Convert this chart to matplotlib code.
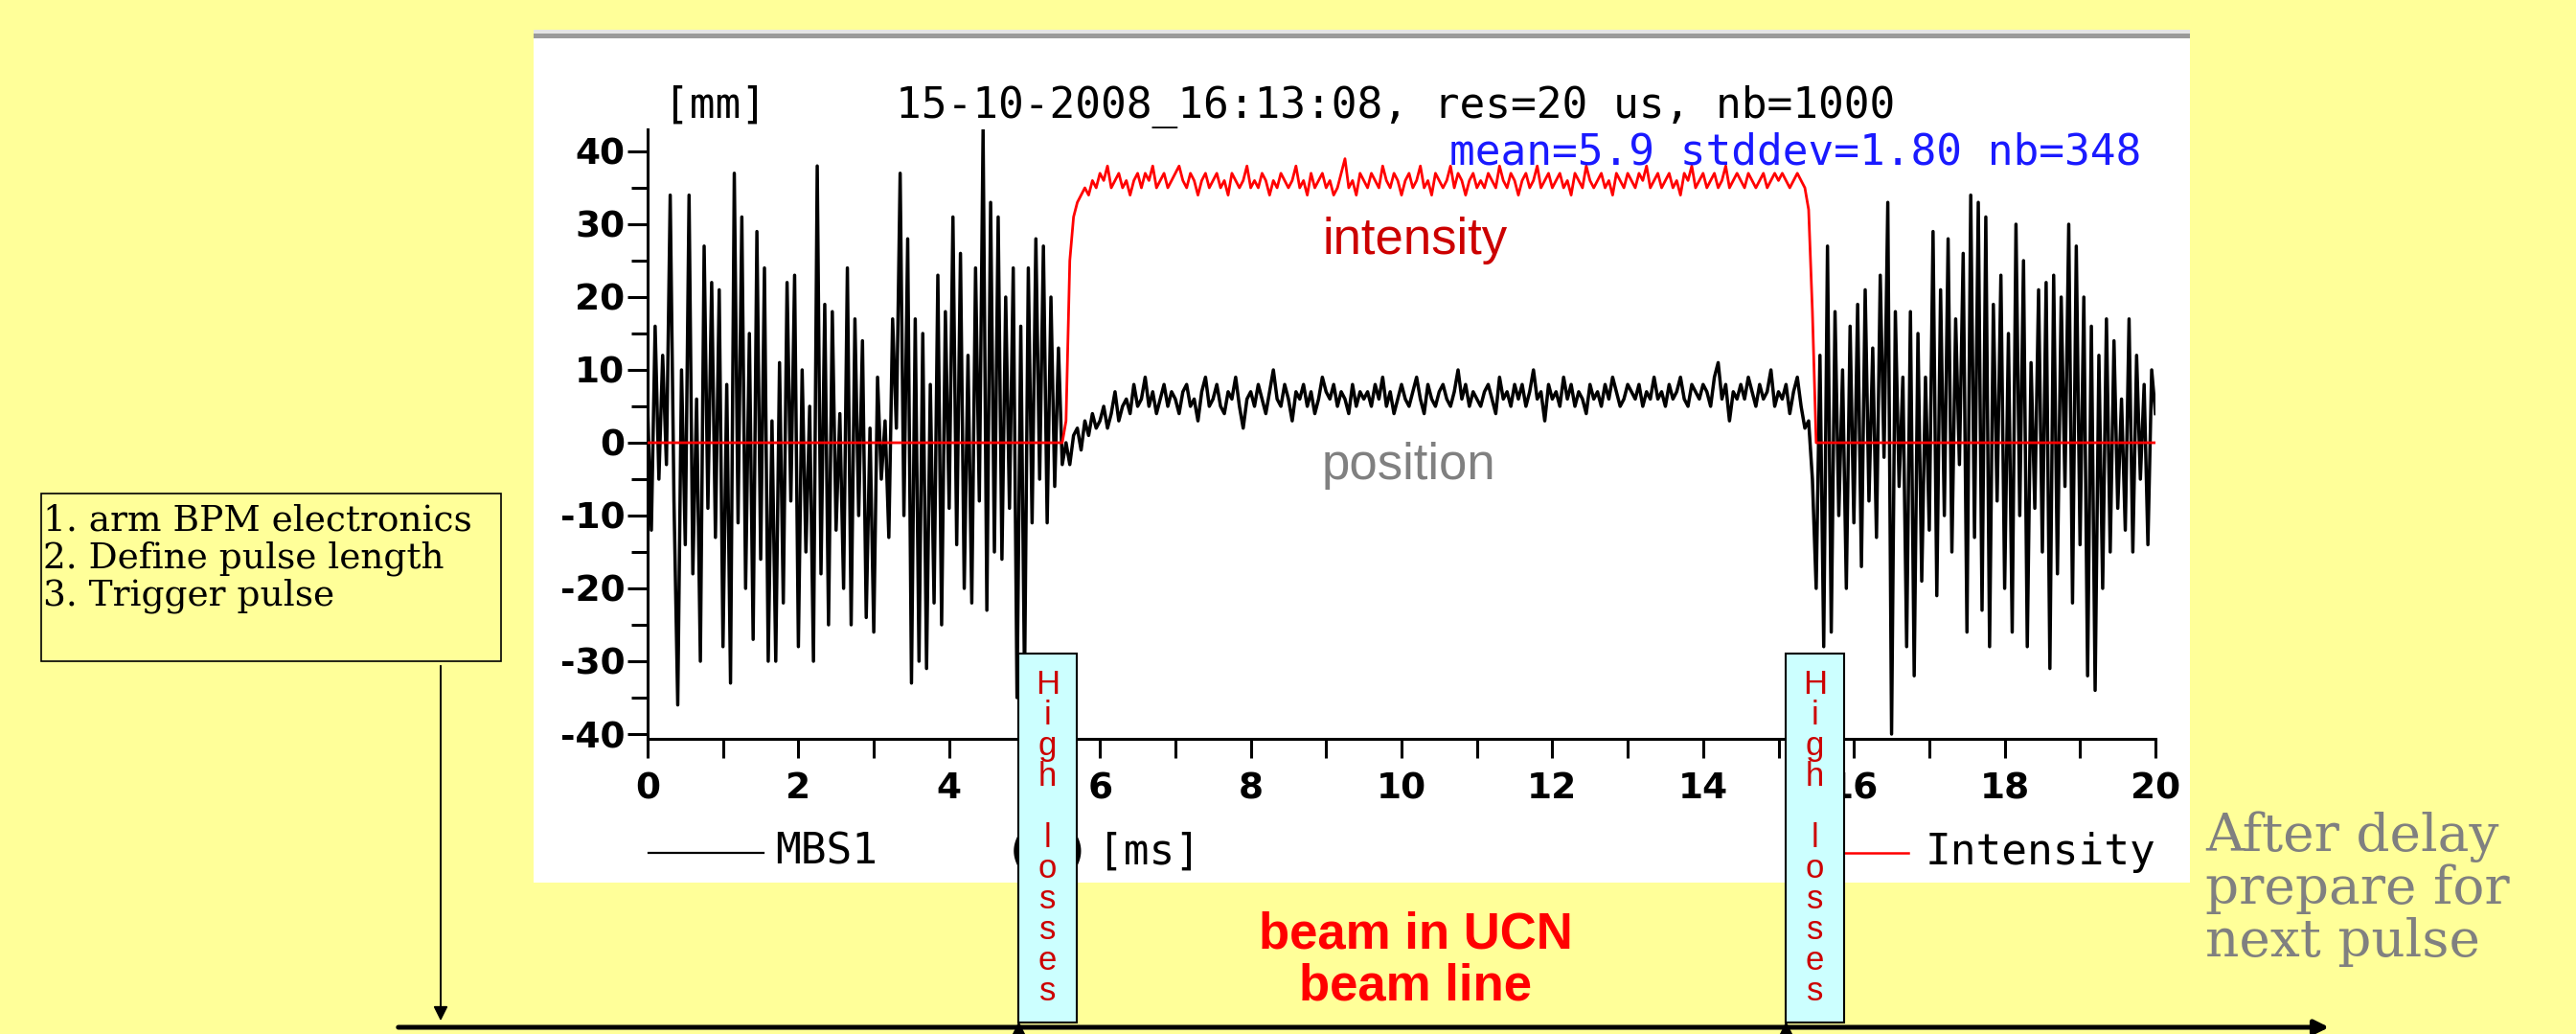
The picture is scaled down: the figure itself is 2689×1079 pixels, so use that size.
import numpy as np
import matplotlib
matplotlib.use("Agg")
import matplotlib.pyplot as plt
from matplotlib.patches import Rectangle
from matplotlib.ticker import MultipleLocator

W, H = 2689, 1079
DT = 0.05  # ms between the samples typed below

# MBS1 beam position [mm]
pos_before = [  # t = 0.00 .. 5.50 ms
    5, -12, 16, -5, 12, -3, 34, -8, -36, 10,
    -14, 34, -18, 6, -30, 27, -9, 22, -13, 21,
    -28, 8, -33, 37, -11, 31, -20, 15, -27, 29,
    -16, 24, -30, 3, -30, 11, -22, 22, -8, 23,
    -28, 10, -15, 5, -30, 38, -18, 19, -25, 18,
    -12, 4, -20, 24, -25, 17, -10, 14, -24, 2,
    -26, 9, -5, 3, -13, 17, 2, 37, -10, 28,
    -33, 17, -30, 15, -31, 8, -22, 23, -25, 18,
    -9, 31, -14, 26, -20, 12, -22, 24, -8, 43,
    -23, 33, -15, 31, -16, 20, -9, 24, -35, 16,
    -33, 24, -11, 28, -5, 27, -11, 20, -6, 13,
    -3]
pos_beam = [  # t = 5.55 .. 15.40 ms
    0, -3, 1, 2, -1, 3, 1, 4, 2, 3,
    5, 2, 4, 7, 3, 5, 6, 4, 8, 5,
    6, 9, 5, 7, 4, 6, 8, 5, 7, 6,
    4, 7, 8, 5, 6, 3, 7, 9, 5, 6,
    8, 5, 4, 7, 6, 9, 5, 2, 6, 7,
    5, 8, 6, 4, 7, 10, 6, 5, 8, 6,
    3, 7, 6, 8, 5, 7, 4, 6, 9, 7,
    6, 8, 5, 7, 6, 4, 8, 5, 7, 6,
    7, 5, 8, 6, 9, 5, 7, 4, 6, 8,
    6, 5, 7, 9, 6, 4, 8, 6, 5, 7,
    8, 6, 5, 7, 10, 6, 8, 5, 7, 6,
    5, 7, 8, 6, 4, 9, 6, 7, 5, 8,
    6, 8, 5, 7, 10, 6, 7, 3, 8, 6,
    7, 5, 9, 6, 8, 5, 7, 6, 4, 8,
    6, 7, 5, 8, 6, 9, 7, 5, 6, 8,
    7, 6, 8, 5, 7, 6, 9, 6, 7, 5,
    8, 6, 7, 9, 6, 5, 8, 7, 6, 8,
    7, 5, 9, 11, 6, 8, 3, 7, 6, 8,
    6, 9, 7, 5, 8, 6, 7, 10, 5, 7,
    6, 8, 4, 7, 9, 5, 2, 3]
pos_after = [  # t = 15.45 .. 20.00 ms
    -5, -20, 12, -28, 27, -26, 18, -10, 10, -20,
    16, -11, 19, -17, 21, -8, 13, -13, 23, -2,
    33, -40, 18, -6, 9, -28, 18, -32, 15, -19,
    9, -12, 29, -21, 21, -10, 28, -15, 17, -3,
    26, -26, 34, -13, 33, -23, 31, -28, 19, -8,
    23, -20, 15, -26, 30, -10, 25, -28, 11, -9,
    21, -15, 22, -31, 23, -18, 20, -6, 30, -22,
    27, -14, 20, -32, 16, -34, 12, -20, 17, -15,
    14, -9, 6, -12, 17, -15, 12, -5, 8, -14,
    10, 4]

# Intensity while the beam is on (zero before and after)
int_beam = [  # t = 5.55 .. 15.45 ms
    3, 25, 31, 33, 34, 35, 34, 36, 35, 37,
    36, 38, 35, 36, 37, 35, 36, 34, 36, 37,
    35, 37, 36, 38, 35, 36, 37, 35, 36, 37,
    38, 36, 35, 37, 36, 34, 36, 37, 35, 36,
    37, 35, 36, 34, 37, 36, 35, 36, 38, 35,
    36, 35, 37, 36, 34, 36, 35, 37, 36, 35,
    36, 38, 35, 36, 34, 37, 35, 36, 37, 35,
    36, 34, 35, 37, 39, 35, 36, 34, 37, 36,
    35, 37, 36, 35, 38, 36, 35, 37, 36, 34,
    36, 37, 35, 36, 38, 35, 36, 34, 37, 36,
    35, 36, 38, 35, 37, 36, 34, 36, 37, 35,
    36, 35, 37, 36, 35, 38, 36, 35, 37, 36,
    34, 36, 37, 35, 36, 38, 35, 36, 37, 35,
    36, 37, 35, 36, 34, 37, 36, 35, 38, 36,
    35, 36, 37, 35, 36, 34, 37, 36, 35, 37,
    36, 35, 37, 36, 38, 35, 36, 37, 35, 36,
    37, 35, 36, 34, 37, 36, 38, 35, 36, 37,
    35, 36, 37, 35, 36, 38, 35, 36, 37, 36,
    35, 37, 36, 35, 36, 37, 35, 36, 37, 36,
    37, 36, 35, 36, 37, 36, 35, 32, 18]
T_BEAM = 5.55
T_AFTER = 15.45

x_ticks = [0, 2, 4, 6, 8, 10, 12, 14, 16, 18, 20]
x_labels = ["0", "2", "4", "6", "8", "10", "12", "14", "16", "18", "20"]
y_ticks = [-40, -30, -20, -10, 0, 10, 20, 30, 40]
y_labels = ["-40", "-30", "-20", "-10", "0", "10", "20", "30", "40"]

title = "15-10-2008_16:13:08, res=20 us, nb=1000"
stats = "mean=5.9 stddev=1.80 nb=348"
steps = ["1. arm BPM electronics", "2. Define pulse length", "3. Trigger pulse"]
after = ["After delay", "prepare for", "next pulse"]

MONO = "DejaVu Sans Mono"
SANS = "Liberation Sans"
SERIF = "DejaVu Serif"

t_before = np.arange(len(pos_before)) * DT
t_beam = T_BEAM + np.arange(len(pos_beam)) * DT
t_after = T_AFTER + np.arange(len(pos_after)) * DT
t_pos = np.concatenate([t_before, t_beam, t_after])
position = np.concatenate([pos_before, pos_beam, pos_after])

t_int_beam = T_BEAM + np.arange(len(int_beam)) * DT
t_int_after = t_after[t_after > t_int_beam[-1] + 1e-6]
t_int = np.concatenate([t_before, t_int_beam, t_int_after])
intensity = np.concatenate([np.zeros(len(t_before)), int_beam, np.zeros(len(t_int_after))])

fig = plt.figure(figsize=(W / 100, H / 100), dpi=100)
fig.patch.set_facecolor("#FFFF99")

# background layer, pixel coordinates
bg = fig.add_axes([0, 0, 1, 1], zorder=0)
bg.set_xlim(0, W)
bg.set_ylim(H, 0)
bg.axis("off")
bg.add_patch(Rectangle((557, 40), 1729, 881, fc="white", ec="none"))
bg.add_patch(Rectangle((557, 31), 1729, 4, fc="#e4e4e4", ec="none"))
bg.add_patch(Rectangle((557, 35), 1729, 5, fc="#9a9a9a", ec="none"))

# legend row under the plot (partly hidden by the loss markers)
bg.plot([677, 797], [890, 890], color="black", lw=1.6)
bg.text(809, 902, "MBS1", family=MONO, fontsize=32, va="baseline")
bg.text(1062, 902, "(", family=MONO, fontsize=32, ha="center", va="baseline")
bg.text(1124, 902, ")", family=MONO, fontsize=32, ha="center", va="baseline")
bg.text(1146, 902, "[ms]", family=MONO, fontsize=32, va="baseline")
bg.plot([1880, 1992], [890, 890], color="#ff0000", lw=1.8)
bg.text(2010, 902, "Intensity", family=MONO, fontsize=32, va="baseline")

# the scope plot; y = 40 at 158 px, y = -40 at 766 px
ymin, ymax = -40.7, 43.0
ppm = (766 - 158) / 80.0
top_px = 158 - (ymax - 40) * ppm
bot_px = 766 + (-40 - ymin) * ppm
ax = fig.add_axes([676 / W, 1 - bot_px / H, (2250 - 676) / W, (bot_px - top_px) / H], zorder=1)
ax.patch.set_alpha(0)
ax.plot(t_pos, position, color="black", lw=2.5, zorder=2)
ax.plot(t_int, intensity, color="#ff0000", lw=2.0, zorder=3)
ax.set_xlim(0, 20)
ax.set_ylim(ymin, ymax)
for s in ["top", "right"]:
    ax.spines[s].set_visible(False)
for s in ["left", "bottom"]:
    ax.spines[s].set_linewidth(2.2)
ax.set_xticks(x_ticks)
ax.set_xticklabels(x_labels)
ax.set_yticks(y_ticks)
ax.set_yticklabels(y_labels)
ax.xaxis.set_minor_locator(MultipleLocator(1))
ax.yaxis.set_minor_locator(MultipleLocator(5))
ax.tick_params(axis="x", which="both", length=14.5, width=2.2, direction="out", pad=10)
ax.tick_params(axis="y", which="major", length=15, width=2.2, direction="out", pad=2)
ax.tick_params(axis="y", which="minor", length=12, width=2.2, direction="out")
for lbl in ax.get_xticklabels() + ax.get_yticklabels():
    lbl.set_family("DejaVu Sans")
    lbl.set_fontweight("bold")
    lbl.set_fontsize(27)

# annotation layer on top, pixel coordinates
ov = fig.add_axes([0, 0, 1, 1], zorder=2)
ov.set_xlim(0, W)
ov.set_ylim(H, 0)
ov.axis("off")

ov.text(693, 123, "[mm]", family=MONO, fontsize=32, va="baseline")
ov.text(935, 123, title, family=MONO, fontsize=32, va="baseline")
ov.text(1513, 172, stats, family=MONO, fontsize=32, va="baseline", color="#1a1aff")
ov.text(1380, 265, "intensity", family=SANS, fontsize=38, va="baseline", color="#cc0000")
ov.text(1380, 500, "position", family=SANS, fontsize=38, va="baseline", color="#808080")

# "High losses" markers
for bx in [1063, 1864]:
    ov.add_patch(Rectangle((bx, 682), 61, 385, fc="#CCFFFF", ec="black", lw=1.5))
    for i, ch in enumerate("High losses"):
        ov.text(bx + 30.5, 724 + i * 32, ch, family=SANS, fontsize=25,
                ha="center", va="baseline", color="#cc0000")
    ov.plot([bx], [1074], marker="^", ms=10, color="black", clip_on=False)

ov.text(1478, 990, "beam in UCN", family=SANS, fontsize=38, fontweight="bold",
        ha="center", va="baseline", color="#ff0000")
ov.text(1478, 1044, "beam line", family=SANS, fontsize=38, fontweight="bold",
        ha="center", va="baseline", color="#ff0000")

# step box and arrow down to the time line
ov.add_patch(Rectangle((43, 515), 480, 175, fill=False, ec="black", lw=1.2))
for i, line in enumerate(steps):
    ov.text(45, 554 + i * 38.6, line, family=SERIF, fontsize=27, va="baseline")
ov.annotate("", xy=(460, 1068), xytext=(460, 692),
            arrowprops=dict(arrowstyle="-|>", color="black", lw=1.4, mutation_scale=22))

# time line
ov.annotate("", xy=(2434, 1072), xytext=(413, 1072),
            arrowprops=dict(arrowstyle="-|>", color="black", lw=3.6, mutation_scale=22))

for i, line in enumerate(after):
    ov.text(2302, 888 + i * 55, line, family=SERIF, fontsize=39.5, va="baseline", color="#808080")

fig.savefig("out.png", dpi=100, facecolor=fig.get_facecolor())
